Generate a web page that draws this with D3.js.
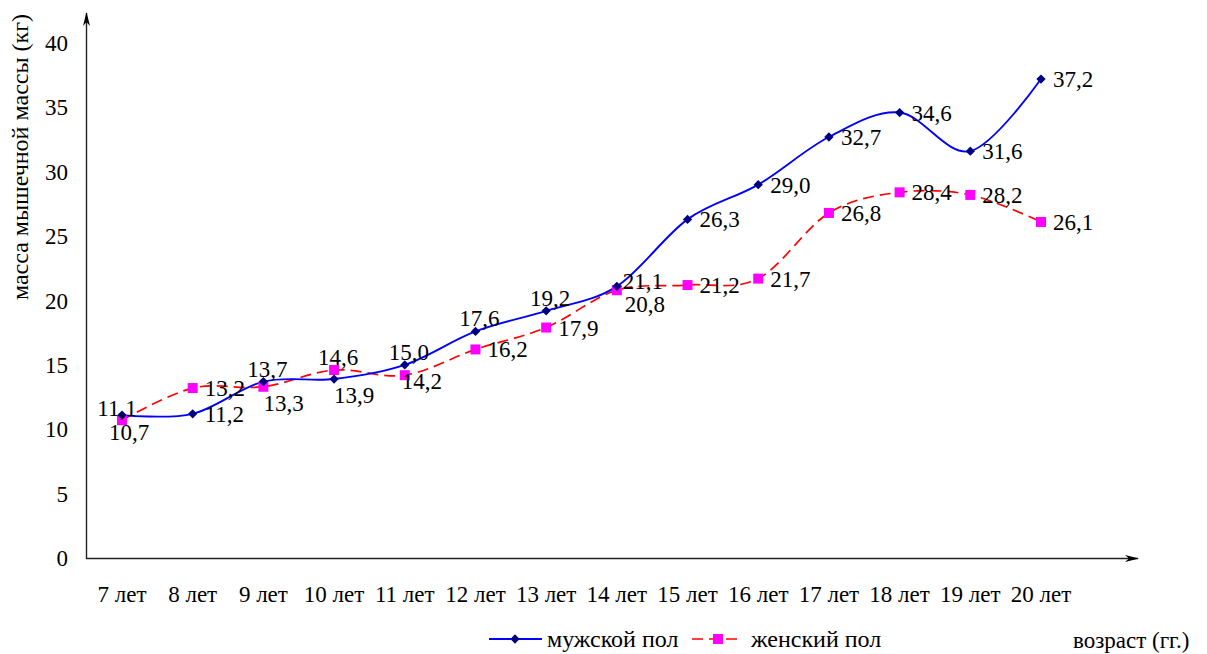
<!DOCTYPE html>
<html>
<head>
<meta charset="utf-8">
<script src="https://cdn.jsdelivr.net/npm/d3@7"></script>
</head>
<body style="margin:0;padding:0;background:#fff">
<svg id="chart" width="1207" height="654"></svg>
<script>
// Ages and muscle mass values (kg)
const categories = ["7 лет", "8 лет", "9 лет", "10 лет", "11 лет", "12 лет", "13 лет",
                    "14 лет", "15 лет", "16 лет", "17 лет", "18 лет", "19 лет", "20 лет"];
const maleValues   = [11.1, 11.2, 13.7, 13.9, 15.0, 17.6, 19.2, 21.1, 26.3, 29.0, 32.7, 34.6, 31.6, 37.2];
const femaleValues = [10.7, 13.2, 13.3, 14.6, 14.2, 16.2, 17.9, 20.8, 21.2, 21.7, 26.8, 28.4, 28.2, 26.1];
const yTicks = [0, 5, 10, 15, 20, 25, 30, 35, 40];
const seriesNames = ["мужской пол", "женский пол"];

// Where each value label sits relative to its point
const maleLabelPos   = ["al", "r", "a", "br", "a", "a", "a", "rc", "r", "r", "r", "r", "r", "r"];
const femaleLabelPos = ["b", "r", "br", "a", "rl", "r", "r", "brr", "r", "r", "r", "r", "r", "r"];

const FONT = "Liberation Serif";
const svg = d3.select("#chart");

const x = d3.scalePoint().domain(categories).range([122, 1041]);
const y = d3.scaleLinear().domain([0, 40]).range([558, 43]);

// Axes with arrow heads
svg.append("defs").append("marker")
  .attr("id", "arrow").attr("viewBox", "0 0 14 10").attr("refX", 13).attr("refY", 5)
  .attr("markerWidth", 14).attr("markerHeight", 10).attr("markerUnits", "userSpaceOnUse")
  .attr("orient", "auto")
  .append("path").attr("d", "M0,1.5 L14,5 L0,8.5 L4,5 Z").attr("fill", "#000");

svg.append("line").attr("x1", 86.5).attr("y1", 559).attr("x2", 86.5).attr("y2", 13)
  .attr("stroke", "#222").attr("stroke-width", 1.4).attr("marker-end", "url(#arrow)");
svg.append("line").attr("x1", 86).attr("y1", 558.5).attr("x2", 1138).attr("y2", 558.5)
  .attr("stroke", "#222").attr("stroke-width", 1.4).attr("marker-end", "url(#arrow)");

// Y tick labels
svg.append("g").selectAll("text").data(yTicks).join("text")
  .attr("x", 68).attr("y", d => y(d) + 8)
  .attr("text-anchor", "end").attr("font-size", 23).attr("font-family", FONT)
  .text(d => d);

// X category labels
svg.append("g").selectAll("text").data(categories).join("text")
  .attr("x", d => x(d)).attr("y", 602)
  .attr("text-anchor", "middle").attr("font-size", 23).attr("font-family", FONT)
  .text(d => d);

// Axis titles
svg.append("text")
  .attr("transform", "translate(28,157) rotate(-90)")
  .attr("text-anchor", "middle").attr("font-size", 24).attr("font-family", FONT)
  .text("масса мышечной массы (кг)");
svg.append("text").attr("x", 1073).attr("y", 648)
  .attr("font-size", 23).attr("font-family", FONT).text("возраст (гг.)");

const line = d3.line()
  .x((d, i) => x(categories[i]))
  .y(d => y(d))
  .curve(d3.curveCatmullRom.alpha(0));

// Female series (dashed red)
svg.append("path").datum(femaleValues).attr("d", line)
  .attr("fill", "none").attr("stroke", "#ff0000").attr("stroke-width", 1.7)
  .attr("stroke-dasharray", "11,6");
// Male series (solid blue)
svg.append("path").datum(maleValues).attr("d", line)
  .attr("fill", "none").attr("stroke", "#0000ff").attr("stroke-width", 1.9);

const diamond = d3.symbol().type(d3.symbolDiamond2).size(55);
const square = d3.symbol().type(d3.symbolSquare).size(100);

svg.append("g").selectAll("path").data(femaleValues).join("path")
  .attr("transform", (d, i) => `translate(${x(categories[i])},${y(d)})`)
  .attr("d", square).attr("fill", "#ff00ff");
svg.append("g").selectAll("path").data(maleValues).join("path")
  .attr("transform", (d, i) => `translate(${x(categories[i])},${y(d)})`)
  .attr("d", diamond).attr("fill", "#000080");

// Value labels
const fmt = v => v.toFixed(1).replace(".", ",");
const placements = {
  r:   { dx: 12, dy: 8,  anchor: "start" },
  rc:  { dx: 6,  dy: 3,  anchor: "start" },
  rl:  { dx: -3, dy: 14, anchor: "start" },
  br:  { dx: 0,  dy: 24, anchor: "start" },
  brr: { dx: 8,  dy: 22, anchor: "start" },
  a:   { dx: 4,  dy: -5, anchor: "middle" },
  b:   { dx: 7,  dy: 20, anchor: "middle" },
  al:  { dx: -5, dy: 1,  anchor: "middle" }
};
function drawLabels(values, positions) {
  svg.append("g").selectAll("text").data(values).join("text")
    .each(function (d, i) {
      const p = placements[positions[i]];
      d3.select(this)
        .attr("x", x(categories[i]) + p.dx)
        .attr("y", y(d) + p.dy)
        .attr("text-anchor", p.anchor)
        .attr("font-size", 23)
        .attr("font-family", FONT)
        .text(fmt(d));
    });
}
drawLabels(femaleValues, femaleLabelPos);
drawLabels(maleValues, maleLabelPos);

// Legend
const lg = svg.append("g");
lg.append("line").attr("x1", 489).attr("x2", 542).attr("y1", 639).attr("y2", 639)
  .attr("stroke", "#0000ff").attr("stroke-width", 1.9);
lg.append("path").attr("transform", "translate(515,639)").attr("d", diamond).attr("fill", "#000080");
lg.append("text").attr("x", 547).attr("y", 647).attr("font-size", 24).attr("font-family", FONT)
  .text(seriesNames[0]);
lg.append("line").attr("x1", 692).attr("x2", 741).attr("y1", 639).attr("y2", 639)
  .attr("stroke", "#ff0000").attr("stroke-width", 1.7).attr("stroke-dasharray", "11,6");
lg.append("path").attr("transform", "translate(718,639)").attr("d", square).attr("fill", "#ff00ff");
lg.append("text").attr("x", 751).attr("y", 647).attr("font-size", 24).attr("font-family", FONT)
  .text(seriesNames[1]);
</script>
</body>
</html>
